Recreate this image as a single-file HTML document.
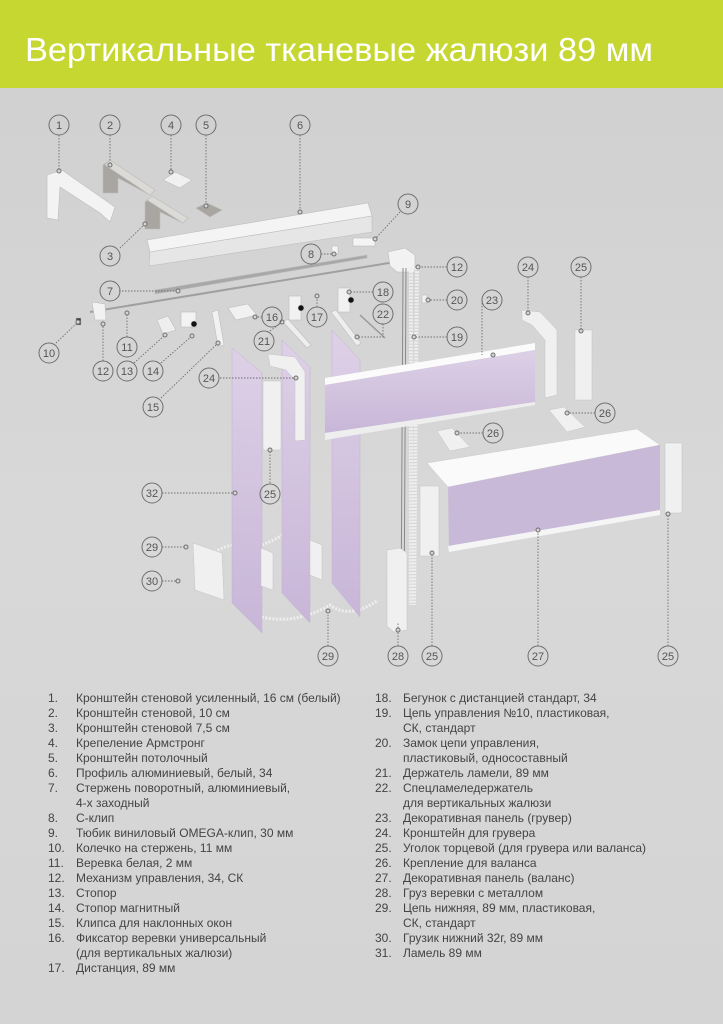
<!DOCTYPE html>
<html><head><meta charset="utf-8"><style>
html,body{margin:0;padding:0;width:723px;height:1024px;overflow:hidden;background:#d5d5d5}
svg{display:block}
text{font-family:"Liberation Sans",sans-serif}
</style></head><body>
<svg width="723" height="1024" viewBox="0 0 723 1024" xmlns="http://www.w3.org/2000/svg">
<defs>
<linearGradient id="bg" x1="0" y1="0" x2="0" y2="1"><stop offset="0" stop-color="#cfcfcf"/><stop offset="0.5" stop-color="#d8d8d8"/><stop offset="1" stop-color="#d4d4d4"/></linearGradient>
<linearGradient id="pu" x1="0" y1="0" x2="0" y2="1"><stop offset="0" stop-color="#ddd0e6"/><stop offset="1" stop-color="#c8b6d8"/></linearGradient>
</defs>
<rect width="723" height="1024" fill="url(#bg)"/>
<rect width="723" height="88" fill="#c5d730"/>
<text x="25" y="61" font-size="33" fill="#fff" textLength="628" lengthAdjust="spacingAndGlyphs">Вертикальные тканевые жалюзи 89 мм</text>

<g stroke="#bdbdbd" stroke-width="0.6">
<polygon points="47,175 62,170 115,207 110,222 100,213 60,187 58,220 47,218" fill="#f3f3f3"/>
<polygon points="103,165 110,160 155,190 150,195 118,178 118,193 103,193" fill="#a9a6a2"/>
<polygon points="110,160 155,190 150,195 105,165" fill="#dcdad6"/>
<polygon points="145,202 152,196 188,218 183,223 160,212 160,229 145,229" fill="#a9a6a2"/>
<polygon points="152,196 188,218 183,223 147,200" fill="#dcdad6"/>
<polygon points="163,180 175,172 192,180 180,188" fill="#f0f0f0"/>
<polygon points="196,208 207,203 222,210 210,217" fill="#a9a6a2"/>
<polygon points="147,240 368,203 372,216 150,252" fill="#f4f4f4"/>
<polygon points="150,252 372,216 372,232 149,266" fill="#e6e6e6"/>
<rect x="353" y="238" width="22" height="8" fill="#f4f4f4"/>
<rect x="332" y="246" width="6" height="8" fill="#f4f4f4"/>
<polygon points="155,290 367,255 367,258 155,294" fill="#a8a8a8"/>
<line x1="90" y1="312" x2="395" y2="262" stroke="#a0a0a0" stroke-width="2"/>
<polygon points="388,252 405,248 415,255 415,272 397,272 390,266" fill="#f2f2f2"/>
<polygon points="92,302 105,304 106,320 95,320" fill="#f2f2f2"/>
<rect x="76" y="318" width="5" height="7" fill="#333"/>
<polygon points="157,320 168,316 176,330 163,334" fill="#eee"/>
<rect x="181" y="312" width="15" height="15" fill="#f3f3f3"/>
<circle cx="194" cy="324" r="3" fill="#111"/>
<polygon points="212,312 218,310 224,345 218,346" fill="#f1f1f1"/>
<polygon points="228,308 248,304 257,315 236,320" fill="#f1f1f1"/>
<rect x="289" y="296" width="12" height="24" fill="#f1f1f1"/>
<circle cx="301" cy="308" r="3" fill="#111"/>
<rect x="338" y="288" width="12" height="24" fill="#f1f1f1"/>
<circle cx="351" cy="300" r="3" fill="#111"/>
<polygon points="283,322 288,319 311,345 307,348" fill="#eee"/>
<polygon points="331,312 336,310 361,343 357,346" fill="#eee"/>
<line x1="360" y1="315" x2="385" y2="338" stroke="#999" stroke-width="1.5"/>
<rect x="422" y="295" width="5" height="8" fill="#f1f1f1"/>
</g>
<line x1="403" y1="268" x2="401" y2="622" stroke="#8a8a8a" stroke-width="1"/>
<line x1="406" y1="268" x2="404" y2="622" stroke="#8a8a8a" stroke-width="1"/>
<line x1="411" y1="268" x2="411" y2="605" stroke="#eee" stroke-width="4" stroke-dasharray="2 1.2"/>
<line x1="417" y1="268" x2="414" y2="605" stroke="#eee" stroke-width="4" stroke-dasharray="2 1.2"/>
<path d="M203,560 Q218,548 232,545 M262,545 Q275,540 282,535 M262,617 Q295,625 330,605 Q350,620 378,600" fill="none" stroke="#eee" stroke-width="3" stroke-dasharray="2 1.5"/>

<g stroke="#c2b2d2" stroke-width="0.5">
<polygon points="232,348 262,373 262,633 232,603" fill="url(#pu)"/>
<polygon points="282,340 310,367 310,623 282,593" fill="url(#pu)"/>
<polygon points="332,330 360,360 360,617 332,583" fill="url(#pu)"/>
</g>
<g fill="#f0f0f0" stroke="#c4c4c4" stroke-width="0.5">
<polygon points="193,543 222,553 224,600 195,590"/>
<polygon points="261,548 273,553 273,590 261,586"/>
<polygon points="310,540 322,545 322,580 310,575"/>
<polygon points="387,550 400,548 407,553 407,630 394,632 387,626"/>
<path d="M268,354 L295,357 L305,372 L305,440 L295,441 L295,380 L286,370 L270,366 Z"/>
<path d="M522,310 L540,312 L557,330 L557,395 L545,398 L545,340 L532,325 L522,320 Z"/>
<rect x="263" y="381" width="18" height="69"/>
<rect x="575" y="330" width="17" height="70"/>
<rect x="420" y="486" width="19" height="70"/>
<rect x="665" y="443" width="17" height="70"/>
<polygon points="437,431 452,428 470,447 450,451"/>
<polygon points="549,410 564,407 585,427 567,432"/>
</g>
<polygon points="325,378 535,343 535,350 325,385" fill="#fbfbfb"/>
<polygon points="325,385 535,350 535,402 325,433" fill="url(#pu)"/>
<polygon points="325,433 535,402 535,405 325,440" fill="#eee"/>
<polygon points="427,463 637,429 660,445 448,487" fill="#fafafa" stroke="#ccc" stroke-width="0.5"/>
<polygon points="448,487 660,445 660,513 449,550" fill="#c9b9d8"/>
<polygon points="448,546 660,510 660,515 449,552" fill="#f5f5f5"/>

<g stroke="#6f6f6f" stroke-width="0.9" stroke-dasharray="1.5 1.5" fill="none">
<path d="M59,135V171 M110,135V165 M171,135V172 M206,135V206 M300,135V212 M400,212L375,239 M120,248L145,224 M321,254H334 M119,291H178 M447,267H418 M373,292H349 M447,300H428 M482,300V355 M528,277V313 M581,277V331 M447,337H414 M56,343L78,322 M103,361V324 M127,337V313 M134,363L165,335 M161,363L192,336 M161,398L218,343 M262,317H255 M317,307V296 M270,331L282,322 M383,324V337 L357,337 M220,378H296 M595,413H567 M483,433H457 M162,493H235 M270,483V450 M162,547H186 M162,581H178 M328,646V615 M398,646V622 M432,646V551 M538,646V532 M668,646V513"/>
</g>
<g fill="#d5d5d5" stroke="#6f6f6f" stroke-width="1">
<circle cx="59" cy="171" r="2"/><circle cx="110" cy="165" r="2"/><circle cx="171" cy="172" r="2"/><circle cx="206" cy="206" r="2"/><circle cx="300" cy="212" r="2"/><circle cx="375" cy="239" r="2"/><circle cx="145" cy="224" r="2"/><circle cx="334" cy="254" r="2"/><circle cx="178" cy="291" r="2"/><circle cx="418" cy="267" r="2"/><circle cx="349" cy="292" r="2"/><circle cx="428" cy="300" r="2"/><circle cx="493" cy="355" r="2"/><circle cx="528" cy="313" r="2"/><circle cx="581" cy="331" r="2"/><circle cx="414" cy="337" r="2"/><circle cx="78" cy="322" r="2"/><circle cx="103" cy="324" r="2"/><circle cx="127" cy="313" r="2"/><circle cx="165" cy="335" r="2"/><circle cx="192" cy="336" r="2"/><circle cx="218" cy="343" r="2"/><circle cx="255" cy="317" r="2"/><circle cx="317" cy="296" r="2"/><circle cx="282" cy="322" r="2"/><circle cx="357" cy="337" r="2"/><circle cx="296" cy="378" r="2"/><circle cx="567" cy="413" r="2"/><circle cx="457" cy="433" r="2"/><circle cx="235" cy="493" r="2"/><circle cx="270" cy="450" r="2"/><circle cx="186" cy="547" r="2"/><circle cx="178" cy="581" r="2"/><circle cx="328" cy="611" r="2"/><circle cx="398" cy="630" r="2"/><circle cx="432" cy="553" r="2"/><circle cx="538" cy="530" r="2"/><circle cx="668" cy="514" r="2"/>
</g>
<g fill="none" stroke="#6f6f6f" stroke-width="1">
<circle cx="59" cy="125" r="10"/><circle cx="110" cy="125" r="10"/><circle cx="171" cy="125" r="10"/><circle cx="206" cy="125" r="10"/><circle cx="300" cy="125" r="10"/><circle cx="408" cy="204" r="10"/><circle cx="110" cy="256" r="10"/><circle cx="311" cy="254" r="10"/><circle cx="457" cy="267" r="10"/><circle cx="110" cy="291" r="10"/><circle cx="383" cy="292" r="10"/><circle cx="457" cy="300" r="10"/><circle cx="492" cy="300" r="10"/><circle cx="528" cy="267" r="10"/><circle cx="581" cy="267" r="10"/><circle cx="49" cy="353" r="10"/><circle cx="127" cy="347" r="10"/><circle cx="103" cy="371" r="10"/><circle cx="127" cy="371" r="10"/><circle cx="153" cy="371" r="10"/><circle cx="153" cy="407" r="10"/><circle cx="272" cy="317" r="10"/><circle cx="317" cy="317" r="10"/><circle cx="264" cy="341" r="10"/><circle cx="383" cy="314" r="10"/><circle cx="457" cy="337" r="10"/><circle cx="209" cy="378" r="10"/><circle cx="605" cy="413" r="10"/><circle cx="493" cy="433" r="10"/><circle cx="152" cy="493" r="10"/><circle cx="270" cy="494" r="10"/><circle cx="152" cy="547" r="10"/><circle cx="152" cy="581" r="10"/><circle cx="328" cy="656" r="10"/><circle cx="398" cy="656" r="10"/><circle cx="432" cy="656" r="10"/><circle cx="538" cy="656" r="10"/><circle cx="668" cy="656" r="10"/>
</g>
<g font-size="11" fill="#555" text-anchor="middle">
<text x="59" y="129">1</text><text x="110" y="129">2</text><text x="171" y="129">4</text><text x="206" y="129">5</text><text x="300" y="129">6</text><text x="408" y="208">9</text><text x="110" y="260">3</text><text x="311" y="258">8</text><text x="457" y="271">12</text><text x="110" y="295">7</text><text x="383" y="296">18</text><text x="457" y="304">20</text><text x="492" y="304">23</text><text x="528" y="271">24</text><text x="581" y="271">25</text><text x="49" y="357">10</text><text x="127" y="351">11</text><text x="103" y="375">12</text><text x="127" y="375">13</text><text x="153" y="375">14</text><text x="153" y="411">15</text><text x="272" y="321">16</text><text x="317" y="321">17</text><text x="264" y="345">21</text><text x="383" y="318">22</text><text x="457" y="341">19</text><text x="209" y="382">24</text><text x="605" y="417">26</text><text x="493" y="437">26</text><text x="152" y="497">32</text><text x="270" y="498">25</text><text x="152" y="551">29</text><text x="152" y="585">30</text><text x="328" y="660">29</text><text x="398" y="660">28</text><text x="432" y="660">25</text><text x="538" y="660">27</text><text x="668" y="660">25</text>
</g>

<g font-size="12" fill="#444">
<g>
<text x="48" y="702">1.</text><text x="76" y="702">Кронштейн стеновой усиленный, 16 см (белый)</text>
<text x="48" y="717">2.</text><text x="76" y="717">Кронштейн стеновой, 10 см</text>
<text x="48" y="732">3.</text><text x="76" y="732">Кронштейн стеновой 7,5 см</text>
<text x="48" y="747">4.</text><text x="76" y="747">Крепеление Армстронг</text>
<text x="48" y="762">5.</text><text x="76" y="762">Кронштейн потолочный</text>
<text x="48" y="777">6.</text><text x="76" y="777">Профиль алюминиевый, белый, 34</text>
<text x="48" y="792">7.</text><text x="76" y="792">Стержень поворотный, алюминиевый,</text>
<text x="76" y="807">4-х заходный</text>
<text x="48" y="822">8.</text><text x="76" y="822">С-клип</text>
<text x="48" y="837">9.</text><text x="76" y="837">Тюбик виниловый OMEGA-клип, 30 мм</text>
<text x="48" y="852">10.</text><text x="76" y="852">Колечко на стержень, 11 мм</text>
<text x="48" y="867">11.</text><text x="76" y="867">Веревка белая, 2 мм</text>
<text x="48" y="882">12.</text><text x="76" y="882">Механизм управления, 34, СК</text>
<text x="48" y="897">13.</text><text x="76" y="897">Стопор</text>
<text x="48" y="912">14.</text><text x="76" y="912">Стопор магнитный</text>
<text x="48" y="927">15.</text><text x="76" y="927">Клипса для наклонных окон</text>
<text x="48" y="942">16.</text><text x="76" y="942">Фиксатор веревки универсальный</text>
<text x="76" y="957">(для вертикальных жалюзи)</text>
<text x="48" y="972">17.</text><text x="76" y="972">Дистанция, 89 мм</text>
</g>
<g>
<text x="375" y="702">18.</text><text x="403" y="702">Бегунок с дистанцией стандарт, 34</text>
<text x="375" y="717">19.</text><text x="403" y="717">Цепь управления №10, пластиковая,</text>
<text x="403" y="732">СК, стандарт</text>
<text x="375" y="747">20.</text><text x="403" y="747">Замок цепи управления,</text>
<text x="403" y="762">пластиковый, односоставный</text>
<text x="375" y="777">21.</text><text x="403" y="777">Держатель ламели, 89 мм</text>
<text x="375" y="792">22.</text><text x="403" y="792">Спецламеледержатель</text>
<text x="403" y="807">для вертикальных жалюзи</text>
<text x="375" y="822">23.</text><text x="403" y="822">Декоративная панель (грувер)</text>
<text x="375" y="837">24.</text><text x="403" y="837">Кронштейн для грувера</text>
<text x="375" y="852">25.</text><text x="403" y="852">Уголок торцевой (для грувера или валанса)</text>
<text x="375" y="867">26.</text><text x="403" y="867">Крепление для валанса</text>
<text x="375" y="882">27.</text><text x="403" y="882">Декоративная панель (валанс)</text>
<text x="375" y="897">28.</text><text x="403" y="897">Груз веревки с металлом</text>
<text x="375" y="912">29.</text><text x="403" y="912">Цепь нижняя, 89 мм, пластиковая,</text>
<text x="403" y="927">СК, стандарт</text>
<text x="375" y="942">30.</text><text x="403" y="942">Грузик нижний 32г, 89 мм</text>
<text x="375" y="957">31.</text><text x="403" y="957">Ламель 89 мм</text>
</g>
</g>
</svg>
</body></html>
